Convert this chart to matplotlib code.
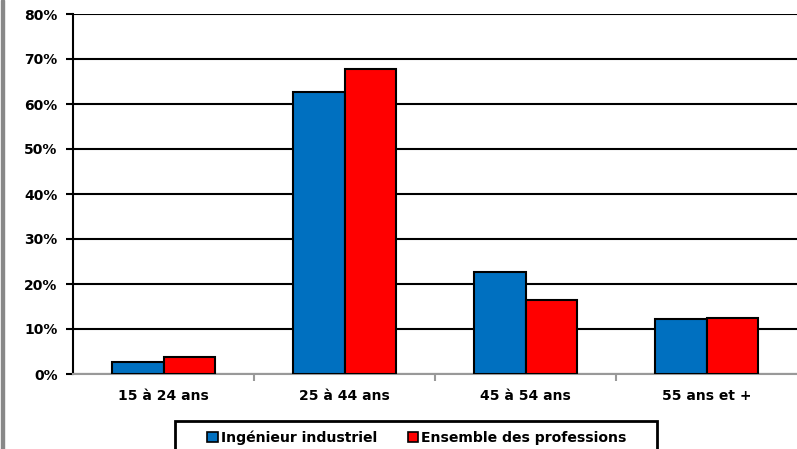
import matplotlib
matplotlib.use("Agg")
import matplotlib.pyplot as plt
import numpy as np
from matplotlib.patches import Rectangle

# data
categories = ["15 à 24 ans", "25 à 44 ans", "45 à 54 ans", "55 ans et +"]
ingenieur = [2.7, 62.6, 22.7, 12.2]
ensemble = [3.7, 67.7, 16.4, 12.4]
series_names = ["Ingénieur industriel", "Ensemble des professions"]
yticks = [0, 10, 20, 30, 40, 50, 60, 70, 80]

plt.rcParams['font.family'] = ['DejaVu Sans']

fig = plt.figure(figsize=(7.97, 4.49), dpi=100)
ax = fig.add_axes([73 / 797, 1 - 374 / 449, 1 - 73 / 797, 360 / 449])

x = np.arange(len(categories))
w = 0.287
ax.bar(x - w / 2, ingenieur, w, color="#0070C0", edgecolor="black", linewidth=1.5,
       label=series_names[0], zorder=3)
ax.bar(x + w / 2, ensemble, w, color="#FF0000", edgecolor="black", linewidth=1.5,
       label=series_names[1], zorder=3)

ax.set_xlim(-0.5, len(categories) - 0.5)
ax.set_ylim(0, 80)
ax.set_yticks(yticks)
ax.set_yticklabels([f"{v}%" for v in yticks], fontsize=10, fontweight="bold")
ax.yaxis.grid(True, color="black", linewidth=1.5, zorder=0)
ax.set_axisbelow(True)

ax.set_xticks(x)
ax.set_xticklabels(categories, fontsize=10, fontweight="bold")
ax.tick_params(axis="x", length=0, pad=11)
ax.set_xticks(np.arange(0.5, len(categories) - 0.5, 1), minor=True)
ax.tick_params(axis="x", which="minor", length=5, color="#999999", width=1.5)
ax.tick_params(axis="y", length=5, width=1.5, color="black", pad=6)

for s in ["top", "right"]:
    ax.spines[s].set_visible(False)
ax.spines["left"].set_linewidth(1.5)
ax.spines["bottom"].set_color("#999999")
ax.spines["bottom"].set_linewidth(1.5)

leg = fig.legend(loc="center", bbox_to_anchor=(417 / 797, 1 - 438 / 449),
                 ncol=2, prop={"weight": "bold", "size": 10.1},
                 frameon=False,
                 handlelength=0.75, handleheight=0.75, handletextpad=0.2,
                 columnspacing=2.2)
for h in leg.legend_handles:
    h.set_linewidth(1.2)

# legend frame (runs off the bottom edge)
fig.patches.append(Rectangle((175 / 797, -0.05), (657 - 175) / 797, 0.05 + 28 / 449,
                             transform=fig.transFigure, fill=False,
                             edgecolor="black", linewidth=2))

# gray frame line on the left edge
fig.patches.append(Rectangle((0.0015, 0), 0.004, 1, transform=fig.transFigure,
                             color="#888888", zorder=0))

fig.savefig("out.png", dpi=100)
